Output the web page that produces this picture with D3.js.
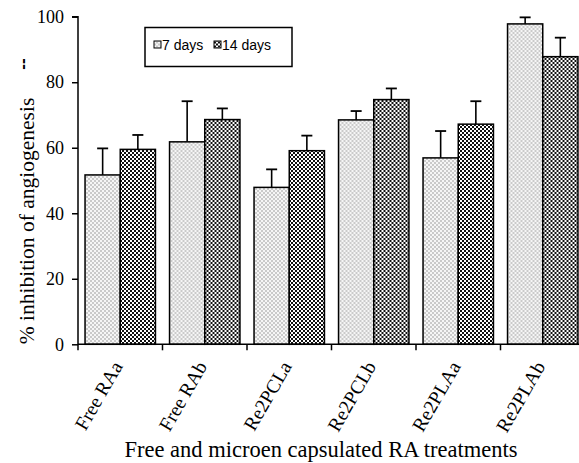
<!DOCTYPE html>
<html>
<head>
<meta charset="utf-8">
<script src="https://cdn.jsdelivr.net/npm/d3@7"></script>
<style>
	body { margin:0; background:#fff; }
	text { fill:#000; }
</style>
</head>
<body>
<svg width="579" height="463"></svg>
<script>
// treatments along x axis
var categories = ["Free RAa", "Free RAb", "Re2PCLa", "Re2PCLb", "Re2PLAa", "Re2PLAb"];
var seriesNames = ["7 days", "14 days"];
// % inhibition
var days7 = [51.7, 61.8, 47.9, 68.5, 56.9, 97.8];
var days14 = [59.5, 68.6, 59.1, 74.7, 67.2, 87.8];
// top of the error bars
var err7 = [59.8, 74.2, 53.4, 71.2, 65.1, 99.8];
var err14 = [63.9, 72.0, 63.7, 78.1, 74.2, 93.6];
var yTicks = [0, 20, 40, 60, 80, 100];

var serif = "'Liberation Serif', 'Times New Roman', serif";
var sans = "'Liberation Sans', Arial, sans-serif";

var svg = d3.select("svg");
var defs = svg.append("defs");

// light dotted pattern for 7 days
var p1 = defs.append("pattern").attr("id", "pat7").attr("patternUnits", "userSpaceOnUse")
	.attr("width", 4).attr("height", 4);
p1.append("rect").attr("width", 4).attr("height", 4).attr("fill", "#f6f6f6");
p1.append("rect").attr("x", 0).attr("y", 0).attr("width", 2).attr("height", 2).attr("fill", "#cacaca");
p1.append("rect").attr("x", 2).attr("y", 2).attr("width", 2).attr("height", 2).attr("fill", "#cacaca");

// dark checker for 14 days
var p2 = defs.append("pattern").attr("id", "pat14").attr("patternUnits", "userSpaceOnUse")
	.attr("width", 4).attr("height", 4);
p2.append("rect").attr("width", 4).attr("height", 4).attr("fill", "#111");
p2.append("rect").attr("x", 0).attr("y", 0).attr("width", 2).attr("height", 2).attr("fill", "#fff");
p2.append("rect").attr("x", 2).attr("y", 2).attr("width", 2).attr("height", 2).attr("fill", "#fff");

var fills = ["url(#pat7)", "url(#pat14)"];

var x0 = 78, x1 = 585, yTop = 16.7, yBot = 344.3;

var x = d3.scaleBand().domain(categories).range([x0, x1]).paddingInner(0).paddingOuter(0);
var xs = d3.scaleBand().domain(seriesNames).range([0, x.bandwidth()]).paddingInner(0).paddingOuter(0.2);
var y = d3.scaleLinear().domain([0, 100]).range([yBot, yTop]);

var rows = categories.map(function(c, i) {
	return [
		{cat:c, s:0, v:days7[i], e:err7[i]},
		{cat:c, s:1, v:days14[i], e:err14[i]}
	];
});

var groups = svg.append("g").selectAll("g.grp")
	.data(rows).enter().append("g").attr("class", "grp")
	.attr("transform", function(d, i) { return "translate(" + x(categories[i]) + ",0)"; });

// error bars first, so bar outline sits on top
groups.selectAll("line.err").data(function(d) { return d; }).enter().append("line")
	.attr("class", "err")
	.attr("x1", function(d) { return xs(seriesNames[d.s]) + xs.bandwidth()/2; })
	.attr("x2", function(d) { return xs(seriesNames[d.s]) + xs.bandwidth()/2; })
	.attr("y1", function(d) { return y(d.v); })
	.attr("y2", function(d) { return y(d.e); })
	.attr("stroke", "#000").attr("stroke-width", 1.6);
groups.selectAll("line.cap").data(function(d) { return d; }).enter().append("line")
	.attr("class", "cap")
	.attr("x1", function(d) { return xs(seriesNames[d.s]) + xs.bandwidth()/2 - 5.5; })
	.attr("x2", function(d) { return xs(seriesNames[d.s]) + xs.bandwidth()/2 + 5.5; })
	.attr("y1", function(d) { return y(d.e); })
	.attr("y2", function(d) { return y(d.e); })
	.attr("stroke", "#000").attr("stroke-width", 1.8);

groups.selectAll("rect.bar").data(function(d) { return d; }).enter().append("rect")
	.attr("class", "bar")
	.attr("x", function(d) { return xs(seriesNames[d.s]); })
	.attr("y", function(d) { return y(d.v); })
	.attr("width", xs.bandwidth())
	.attr("height", function(d) { return y(0) - y(d.v); })
	.attr("fill", function(d) { return fills[d.s]; })
	.attr("stroke", "#000").attr("stroke-width", 1.5);

// y axis
var yAxis = svg.append("g").attr("transform", "translate(" + x0 + ",0)")
	.call(d3.axisLeft(y).tickValues(yTicks).tickSize(6).tickPadding(8).tickFormat(d3.format("d")));
yAxis.attr("font-family", serif).attr("font-size", 18);
yAxis.selectAll("path, line").attr("stroke", "#000").attr("stroke-width", 1.5);
yAxis.select("path").attr("d", "M-6," + yTop + "H0V" + yBot);

// x axis, ticks at category boundaries
var bounds = categories.map(function(c) { return x(c); });
var xAxis = svg.append("g").attr("transform", "translate(0," + yBot + ")");
xAxis.append("line").attr("x1", x0).attr("x2", x1).attr("y1", 0).attr("y2", 0)
	.attr("stroke", "#000").attr("stroke-width", 1.5);
xAxis.selectAll("line.tk").data(bounds).enter().append("line").attr("class", "tk")
	.attr("x1", function(d) { return d; }).attr("x2", function(d) { return d; })
	.attr("y1", 0).attr("y2", 6).attr("stroke", "#000").attr("stroke-width", 1.5);
xAxis.selectAll("text").data(categories).enter().append("text")
	.attr("transform", function(d) { return "translate(" + (x(d) + x.bandwidth()/2 + 3) + ",22) rotate(-60)"; })
	.attr("text-anchor", "end")
	.attr("font-family", serif)
	.attr("font-size", 19.5)
	.text(function(d) { return d; });

// axis titles
svg.append("text")
	.attr("transform", "translate(34,221) rotate(-90)")
	.attr("text-anchor", "middle")
	.attr("font-family", serif)
	.attr("font-size", 21.5)
	.text("% inhibition of angiogenesis");
svg.append("text")
	.attr("transform", "translate(28,64) rotate(-90)")
	.attr("text-anchor", "middle")
	.attr("font-family", sans)
	.attr("font-size", 17).attr("font-weight", "bold")
	.text("--");
svg.append("text")
	.attr("x", 321).attr("y", 457)
	.attr("text-anchor", "middle")
	.attr("font-family", serif)
	.attr("font-size", 22.5)
	.text("Free and microen capsulated RA treatments");

// legend
var lg = svg.append("g").attr("transform", "translate(145,27.5)");
lg.append("rect").attr("width", 147).attr("height", 39).attr("fill", "#fff")
	.attr("stroke", "#000").attr("stroke-width", 1.5);
var items = lg.selectAll("g.item").data(seriesNames).enter().append("g").attr("class", "item")
	.attr("transform", function(d, i) { return "translate(" + (9 + i*60) + ",0)"; });
items.append("rect").attr("x", 0).attr("y", 13.5).attr("width", 7).attr("height", 7)
	.attr("fill", function(d, i) { return fills[i]; })
	.attr("stroke", "#000").attr("stroke-width", 1);
items.append("text").attr("x", 8).attr("y", 22)
	.attr("font-family", sans)
	.attr("font-size", 14)
	.text(function(d) { return d; });
</script>
</body>
</html>
